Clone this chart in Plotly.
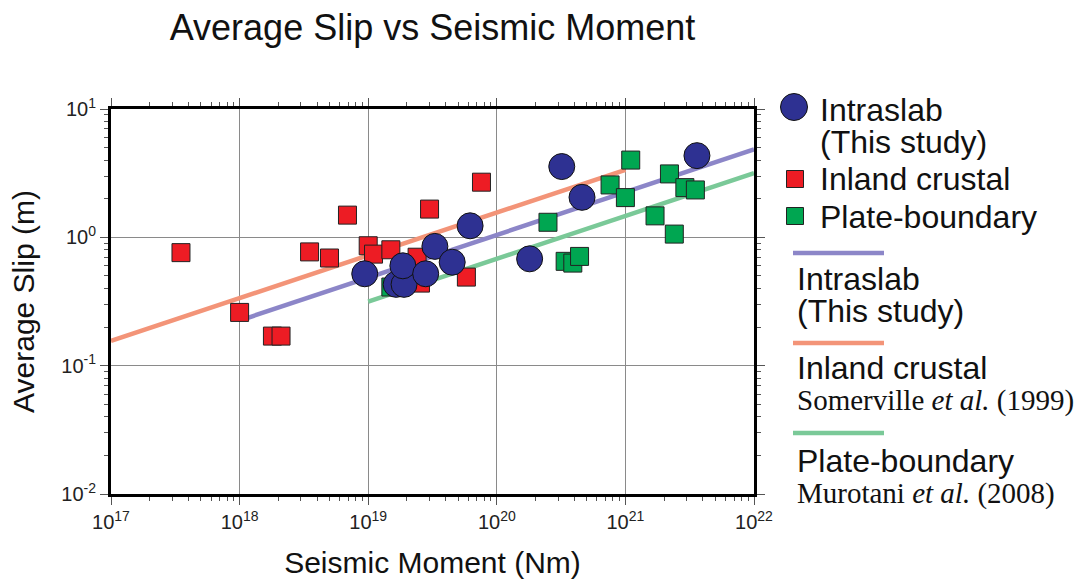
import plotly.graph_objects as go

# Seismic moment (Nm) and average slip (m)
intraslab_m0 = [9.4e18, 1.65e19, 1.9e19, 1.86e19, 2.8e19, 3.3e19, 4.5e19,
                6.2e19, 1.8e20, 3.2e20, 4.6e20, 3.6e21]
intraslab_slip = [0.52, 0.43, 0.43, 0.60, 0.52, 0.85, 0.64,
                  1.23, 0.68, 3.56, 2.05, 4.33]

crustal_m0 = [3.5e17, 1.0e18, 1.8e18, 2.1e18, 3.5e18, 5.0e18, 6.9e18,
              1.0e19, 1.1e19, 1.5e19, 2.4e19, 2.55e19, 3.0e19, 5.8e19, 7.6e19]
crustal_slip = [0.76, 0.26, 0.17, 0.17, 0.77, 0.69, 1.49,
                0.86, 0.74, 0.80, 0.70, 0.44, 1.66, 0.49, 2.69]

plate_m0 = [1.5e19, 2.5e20, 3.4e20, 3.9e20, 4.4e20, 7.6e20, 1.0e21,
            1.1e21, 1.7e21, 2.2e21, 2.4e21, 2.9e21, 3.5e21]
plate_slip = [0.41, 1.31, 0.65, 0.63, 0.71, 2.56, 2.04,
              4.0, 1.47, 3.12, 1.06, 2.44, 2.34]

# Scaling relations (end points)
fit_intraslab_m0 = [1.1e18, 1e22]
fit_intraslab_slip = [0.232, 4.85]
fit_crustal_m0 = [1e17, 1e21]
fit_crustal_slip = [0.156, 3.36]
fit_plate_m0 = [1e19, 1e22]
fit_plate_slip = [0.316, 3.16]

x_decades = list(range(17, 23))
y_decades = list(range(-2, 2))

NAVY = "#2E3192"
RED = "#ED1C24"
GREEN = "#00A651"
LINE_PURPLE = "rgb(140,134,200)"
LINE_ORANGE = "rgb(243,148,120)"
LINE_GREEN = "rgb(122,201,152)"

SANS = "Liberation Sans, Arial, sans-serif"
SERIF = "Liberation Serif, Times New Roman, serif"

W, H = 1078, 588
ML, MR, MT, MB = 111, 324, 109, 94
PW, PH = W - ML - MR, H - MT - MB


def px(x):
    return (x - ML) / PW


def py(y):
    return (H - MB - y) / PH


fig = go.Figure()

for xs, ys, col in [(fit_crustal_m0, fit_crustal_slip, LINE_ORANGE),
                    (fit_intraslab_m0, fit_intraslab_slip, LINE_PURPLE),
                    (fit_plate_m0, fit_plate_slip, LINE_GREEN)]:
    fig.add_trace(go.Scatter(x=xs, y=ys, mode="lines",
                             line=dict(color=col, width=4.5),
                             showlegend=False, hoverinfo="skip"))

fig.add_trace(go.Scatter(x=crustal_m0, y=crustal_slip, mode="markers",
                         marker=dict(symbol="square", size=18, color=RED,
                                     line=dict(color="#222", width=1)),
                         showlegend=False, cliponaxis=False))
fig.add_trace(go.Scatter(x=plate_m0, y=plate_slip, mode="markers",
                         marker=dict(symbol="square", size=18, color=GREEN,
                                     line=dict(color="#222", width=1)),
                         showlegend=False, cliponaxis=False))
fig.add_trace(go.Scatter(x=intraslab_m0, y=intraslab_slip, mode="markers",
                         marker=dict(symbol="circle", size=26, color=NAVY,
                                     line=dict(color="#111", width=1)),
                         showlegend=False, cliponaxis=False))


def minor_vals(decades):
    vals = []
    for d in decades[:-1]:
        for k in range(2, 10):
            vals.append(k * 10.0 ** d)
    return vals


axis_common = dict(
    type="log", showgrid=True, gridcolor="#8a8a8a", gridwidth=1,
    showline=True, linecolor="black", linewidth=3, mirror="allticks",
    ticks="outside", ticklen=8, tickwidth=1.2, tickcolor="#555",
    tickfont=dict(family=SANS, size=20, color="#222"), zeroline=False,
    tickmode="array",
)

fig.update_xaxes(
    **axis_common, range=[17, 22],
    tickvals=[10.0 ** d for d in x_decades],
    ticktext=[f"10<sup>{d}</sup>" for d in x_decades],
    minor=dict(tickmode="array", tickvals=minor_vals(x_decades),
               ticks="outside", ticklen=4, tickwidth=1, tickcolor="#555",
               showgrid=False),
    title=dict(text="Seismic Moment (Nm)", standoff=20,
               font=dict(family=SANS, size=30, color="#111")),
)
fig.update_yaxes(
    **axis_common, range=[-2, 1],
    tickvals=[10.0 ** d for d in y_decades],
    ticktext=[f"10<sup>{d}</sup>" for d in y_decades],
    minor=dict(tickmode="array", tickvals=minor_vals(y_decades),
               ticks="outside", ticklen=4, tickwidth=1, tickcolor="#555",
               showgrid=False),
    title=dict(text="Average Slip (m)", standoff=18,
               font=dict(family=SANS, size=30, color="#111")),
)

shapes = []
annotations = []

# legend: marker samples
shapes.append(dict(type="circle", xref="paper", yref="paper",
                   x0=px(780.5), x1=px(807.5), y0=py(120.5), y1=py(93.5),
                   fillcolor=NAVY, line=dict(color="#111", width=1)))
for cy, col in [(179, RED), (216, GREEN)]:
    shapes.append(dict(type="rect", xref="paper", yref="paper",
                       x0=px(786.5), x1=px(803.5), y0=py(cy + 8.5), y1=py(cy - 8.5),
                       fillcolor=col, line=dict(color="#222", width=1)))
# legend: line samples
for cy, col in [(253, LINE_PURPLE), (343, LINE_ORANGE), (433, LINE_GREEN)]:
    shapes.append(dict(type="line", xref="paper", yref="paper",
                       x0=px(793), x1=px(884), y0=py(cy), y1=py(cy),
                       line=dict(color=col, width=4.5)))

legend_text = [
    (818, 110, "Intraslab", SANS, 32),
    (818, 142, "(This study)", SANS, 32),
    (818, 179, "Inland crustal", SANS, 32),
    (818, 217, "Plate-boundary", SANS, 32),
    (795, 279, "Intraslab", SANS, 32),
    (795, 311, "(This study)", SANS, 32),
    (795, 368, "Inland crustal", SANS, 32),
    (795, 400, "Somerville <i>et al.</i> (1999)", SERIF, 29),
    (795, 461, "Plate-boundary", SANS, 32),
    (795, 493, "Murotani <i>et al.</i> (2008)", SERIF, 29),
]
for x, y, t, fam, sz in legend_text:
    annotations.append(dict(xref="paper", yref="paper", x=px(x), y=py(y),
                            xanchor="left", yanchor="middle", text=t,
                            showarrow=False,
                            font=dict(family=fam, size=sz, color="#111")))

fig.update_layout(
    width=W, height=H,
    margin=dict(l=ML, r=MR, t=MT, b=MB),
    paper_bgcolor="white", plot_bgcolor="white",
    title=dict(text="Average Slip vs Seismic Moment", x=0.5, xref="paper",
               xanchor="center", y=1 - 27 / H, yref="container",
               yanchor="middle",
               font=dict(family=SANS, size=36, color="#111")),
    shapes=shapes, annotations=annotations,
    showlegend=False,
)

fig.write_html("out.html")
